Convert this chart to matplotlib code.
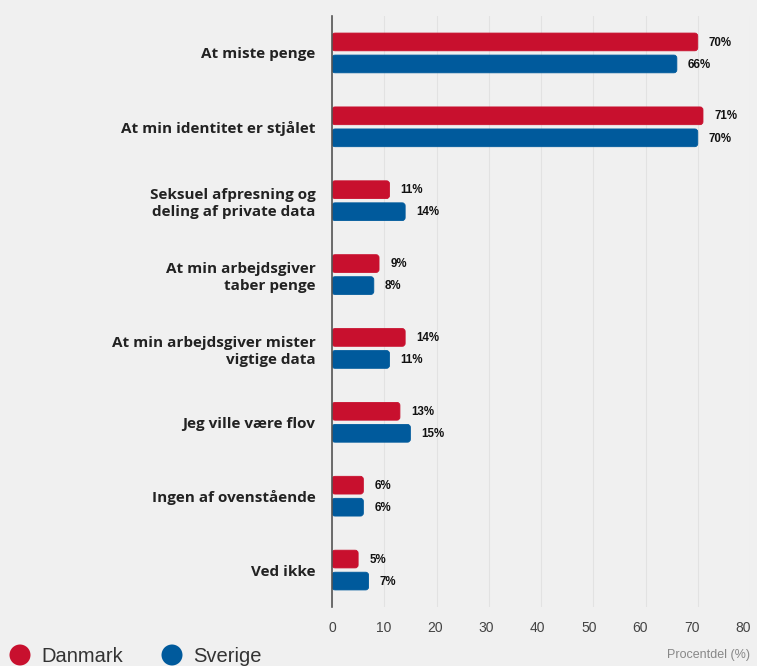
import matplotlib
matplotlib.use("Agg")
import matplotlib.pyplot as plt
import matplotlib.transforms as mtransforms
from matplotlib.patches import Ellipse, FancyBboxPatch

categories = ["At miste penge", "At min identitet er stjålet",
              "Seksuel afpresning og\ndeling af private data",
              "At min arbejdsgiver\ntaber penge",
              "At min arbejdsgiver mister\nvigtige data",
              "Jeg ville være flov", "Ingen af ovenstående", "Ved ikke"]
danmark = [70, 71, 11, 9, 14, 13, 6, 5]
sverige = [66, 70, 14, 8, 11, 15, 6, 7]
xticks = [0, 10, 20, 30, 40, 50, 60, 70, 80]
series_names = ["Danmark", "Sverige"]
colors = ["#c8102e", "#005a9c"]

W, H = 757, 666
fig = plt.figure(figsize=(W/100, H/100), dpi=100)
fig.patch.set_facecolor("#f0f0f0")
ax_l, ax_r, ax_t, ax_b = 332, 750, 16, 607
ax = fig.add_axes([ax_l/W, 1-ax_b/H, (ax_r-ax_l)/W, (ax_b-ax_t)/H])
ax.set_facecolor("#f0f0f0")

ax.set_xlim(0, 80)
ax.set_ylim(len(categories)-0.5, -0.5)
px_x = (ax_r-ax_l)/80.0
px_y = (ax_b-ax_t)/len(categories)

ys = list(range(len(categories)))
off = 0.149
h = 0.24
r_px = 3.0
for vals, sgn, c in [(danmark, -1, colors[0]), (sverige, 1, colors[1])]:
    pos = [y + sgn*off for y in ys]
    bars = ax.barh(pos, vals, height=h, color=c, zorder=3)
    for b in bars:
        x0, y0 = b.get_x(), b.get_y()
        bw, bh = b.get_width(), b.get_height()
        b.set_visible(False)
        fp = FancyBboxPatch((x0, y0), bw, bh,
                            boxstyle=f"round,pad=0,rounding_size={r_px/px_x}",
                            mutation_aspect=px_x/px_y,
                            fc=c, ec=c, lw=0.6, zorder=3)
        ax.add_patch(fp)
    for p, v in zip(pos, vals):
        ax.annotate(f"{v}%", (v, p), xytext=(8, -0.5), textcoords="offset points",
                    va="center", ha="left", fontsize=8.3, fontweight="bold",
                    color="#111111", family=["Liberation Sans"])

ax.set_xticks(xticks)
ax.set_xticklabels([str(t) for t in xticks], fontsize=10, color="#444444",
                   family=["Liberation Sans"])
ax.tick_params(axis="x", length=0, pad=10)
for i, lab in enumerate(ax.get_xticklabels()):
    lab.set_transform(lab.get_transform() +
                      mtransforms.ScaledTranslation(-i*0.85/100, 0, fig.dpi_scale_trans))
ax.set_yticks(ys)
ax.set_yticklabels(categories, fontsize=11, fontweight="bold", color="#222222",
                   family=["Open Sans"], linespacing=1.3)
ax.tick_params(axis="y", length=0, pad=12)
for lab in ax.get_yticklabels():
    lab.set_horizontalalignment("right")
ax.grid(axis="x", color="#e2e2e2", linewidth=0.8, zorder=0)
for s in ["top", "right", "bottom"]:
    ax.spines[s].set_visible(False)
ax.spines["left"].set_color("#555555")
ax.spines["left"].set_linewidth(1.2)
ax.spines["left"].set_zorder(4)

fig.text(750/W, 1-655/H, "Procentdel (%)", ha="right", va="center",
         fontsize=9, color="#888888", family=["Liberation Sans"])

for i, (name, c) in enumerate(zip(series_names, colors)):
    cx = [20, 172][i]
    fig.patches.append(Ellipse((cx/W, 1-655/H), 21/W, 21/H, transform=fig.transFigure,
                               color=c, ec="none"))
    fig.text((cx+21)/W, 1-656/H, name, ha="left", va="center", fontsize=14.5,
             color="#333333", family=["Liberation Sans"])

fig.savefig("out.png", dpi=100, facecolor=fig.get_facecolor())
